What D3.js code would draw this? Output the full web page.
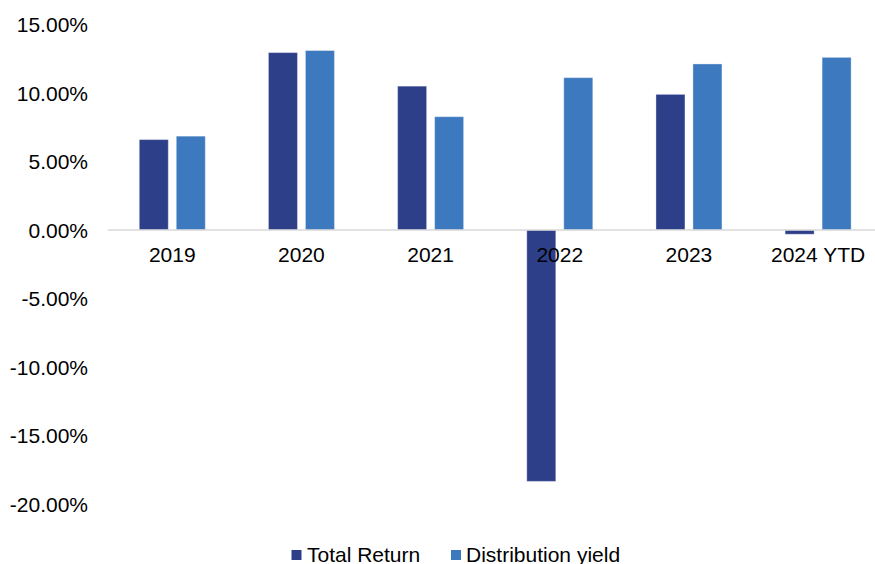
<!DOCTYPE html>
<html>
<head>
<meta charset="utf-8">
<script src="https://cdn.jsdelivr.net/npm/d3@7/dist/d3.min.js"></script>
<style>
  html, body { margin: 0; padding: 0; background: #fff; }
  svg { display: block; }
  text { font-family: "Liberation Sans", Arial, sans-serif; fill: #000; }
</style>
</head>
<body>
<svg id="chart" width="875" height="564"></svg>
<script>
const categories = ["2019", "2020", "2021", "2022", "2023", "2024 YTD"];
const seriesNames = ["Total Return", "Distribution yield"];
const totalReturn = [6.6, 12.95, 10.5, -18.35, 9.9, -0.31];
const distributionYield = [6.85, 13.1, 8.27, 11.12, 12.12, 12.6];
const yTicks = [15, 10, 5, 0, -5, -10, -15, -20];
const colors = ["#2E3F8A", "#3D79BF"];

const svg = d3.select("#chart");
const values = [totalReturn, distributionYield];
const FS = "21px";

const x = d3.scaleBand().domain(categories).range([107.7, 882.7])
  .paddingInner(0.489).paddingOuter(0.2445);
const xs = d3.scaleBand().domain(seriesNames).range([0, x.bandwidth()])
  .paddingInner(0.216).paddingOuter(0);
const y = d3.scaleLinear().domain([-20, 15]).range([504, 24.5]);

// y tick labels
svg.append("g").selectAll("text").data(yTicks).join("text")
  .attr("x", 88).attr("y", d => y(d)).attr("dy", "0.36em")
  .attr("text-anchor", "end").style("font-size", FS)
  .text(d => d.toFixed(2) + "%");

// bars
const groups = svg.append("g").selectAll("g").data(categories).join("g")
  .attr("transform", c => `translate(${x(c)},0)`);
groups.selectAll("rect").data((c, i) => seriesNames.map((s, k) => ({ s, v: values[k][i], k })))
  .join("rect")
  .attr("x", d => xs(d.s))
  .attr("width", xs.bandwidth())
  .attr("y", d => Math.min(y(d.v), y(0)))
  .attr("height", d => Math.abs(y(d.v) - y(0)))
  .attr("fill", d => colors[d.k])
  .attr("stroke", "rgba(255,255,255,0.35)")
  .attr("stroke-width", 1);

// zero axis line
svg.append("line")
  .attr("x1", 107.7).attr("x2", 882.7)
  .attr("y1", y(0)).attr("y2", y(0))
  .attr("stroke", "#d9d9d9").attr("stroke-width", 1.5);

// category labels
svg.append("g").selectAll("text").data(categories).join("text")
  .attr("x", c => x(c) + x.bandwidth() / 2).attr("y", 262)
  .attr("text-anchor", "middle").style("font-size", FS)
  .text(c => c);

// legend
const legendItems = [{ name: seriesNames[0], sx: 291.5, tx: 307 }, { name: seriesNames[1], sx: 451, tx: 466 }];
const lg = svg.append("g");
legendItems.forEach((it, k) => {
  lg.append("rect").attr("x", it.sx).attr("y", 550).attr("width", 10).attr("height", 10)
    .attr("fill", colors[k]);
  lg.append("text").attr("x", it.tx).attr("y", 562).style("font-size", FS).text(it.name);
});
</script>
</body>
</html>
